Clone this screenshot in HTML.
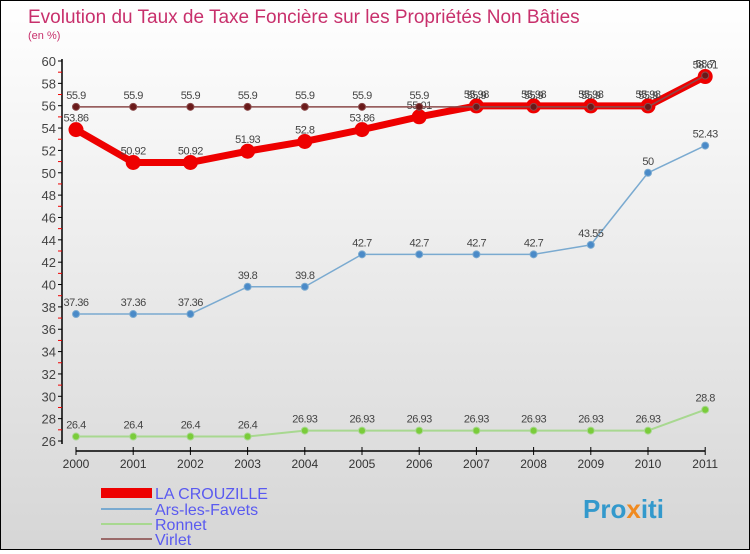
<!DOCTYPE html>
<html><head><meta charset="utf-8"><style>
body{margin:0;width:750px;height:550px;overflow:hidden;font-family:"Liberation Sans",sans-serif}
#wrap{position:absolute;left:0;top:0;width:748px;height:548px;border:1px solid #000;background:linear-gradient(#ffffff,#d6d6d6)}
</style></head><body>
<div id="wrap">
<svg id="svg" width="748" height="548" xmlns="http://www.w3.org/2000/svg">
<text x="27" y="22" font-size="19" fill="#c8306c">Evolution du Taux de Taxe Foncière sur les Propriétés Non Bâties</text>
<text x="27" y="38" font-size="11" fill="#c8306c">(en %)</text>
<g id="axes"></g><g id="series"></g>
<g>
<rect x="100" y="487" width="51" height="10" fill="#ee0000"/>
<text x="154" y="498" font-size="16" fill="#5a5af0">LA CROUZILLE</text>
<rect x="100" y="507" width="51" height="2" fill="#7aaad0"/>
<text x="154" y="514" font-size="16" fill="#5a5af0">Ars-les-Favets</text>
<rect x="100" y="522" width="51" height="2" fill="#a8d890"/>
<text x="154" y="529" font-size="16" fill="#5a5af0">Ronnet</text>
<rect x="100" y="537" width="51" height="2" fill="#9a6a6a"/>
<text x="154" y="544" font-size="16" fill="#5a5af0">Virlet</text>
</g>
<text x="582" y="517" font-size="26" font-weight="bold" fill="#3399cc">Pro<tspan fill="#f08a20">x</tspan>iti</text>
</svg></div>
<script>
const years=["2000","2001","2002","2003","2004","2005","2006","2007","2008","2009","2010","2011"];
const yTicks=[26,28,30,32,34,36,38,40,42,44,46,48,50,52,54,56,58,60];
const crouzille=[53.86,50.92,50.92,51.93,52.8,53.86,55.01,55.98,55.98,55.98,55.98,58.61];
const ars=[37.36,37.36,37.36,39.8,39.8,42.7,42.7,42.7,42.7,43.55,50,52.43];
const ronnet=[26.4,26.4,26.4,26.4,26.93,26.93,26.93,26.93,26.93,26.93,26.93,28.8];
const virlet=[55.9,55.9,55.9,55.9,55.9,55.9,55.9,55.9,55.9,55.9,55.9,58.7];
const NS="http://www.w3.org/2000/svg";
const X=i=>75+i*57.2;
const Y=v=>60+(60-v)*(380/34);
function mk(t,a,p){const e=document.createElementNS(NS,t);for(const k in a)e.setAttribute(k,a[k]);p.appendChild(e);return e;}
const ax=document.getElementById('axes');
const yl=mk('line',{x1:61,y1:58,x2:61,y2:443,stroke:'#000','stroke-width':1.5},ax);


yTicks.forEach(v=>{
 mk('line',{x1:57,x2:61,y1:Y(v),y2:Y(v),stroke:'#000'},ax);
 if(v<60) mk('line',{x1:57,x2:61,y1:Y(v+1),y2:Y(v+1),stroke:'#e00'},ax);
 const t=mk('text',{x:55,y:Y(v)+5,'font-size':13,fill:'#444','text-anchor':'end'},ax);t.textContent=v;
 
 
});
const xl=mk('line',{x1:75,y1:450,x2:X(11),y2:450,stroke:'#000','stroke-width':1.5},ax);


years.forEach((y,i)=>{
 mk('line',{x1:X(i),x2:X(i),y1:446,y2:454,stroke:'#000'},ax);
 const t=mk('text',{x:X(i),y:467,'font-size':12,fill:'#333','text-anchor':'middle'},ax);t.textContent=y;
 
 
});
const sg=document.getElementById('series');
function series(name,vals,color,w,r,dot){
 const g=mk('g',{},sg);
 
 
 const p=mk('polyline',{points:vals.map((v,i)=>X(i)+','+Y(v)).join(' '),fill:'none',stroke:color,'stroke-width':w,'stroke-linejoin':'round'},g);
 
 
 vals.forEach((v,i)=>{
  const c=mk('circle',{cx:X(i),cy:Y(v),r:r,fill:dot,stroke:color,'stroke-width':1},g);
  
  
  const t=mk('text',{x:X(i),y:Y(v)-8,'font-size':11,fill:'#444','text-anchor':'middle','letter-spacing':'-0.5'},g);
  t.textContent=v;
  
  
 });
}
series('ronnet',ronnet,'#a8d890',2,3.5,'#7acc3a');
series('ars-les-favets',ars,'#7aaad0',1.5,3.5,'#4a8ac8');
series('la-crouzille',crouzille,'#ee0000',7,7,'#ee0000');
series('virlet',virlet,'#8a4a4a',1.5,3.5,'#6a1a1a');
</script>
</body></html>
